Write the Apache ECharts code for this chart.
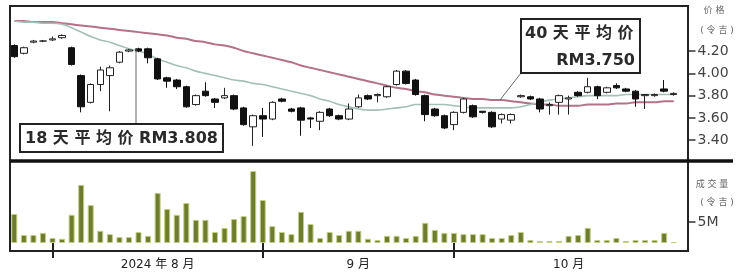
<!DOCTYPE html>
<html><head><meta charset="utf-8">
<script src="https://cdn.jsdelivr.net/npm/echarts@6/dist/echarts.min.js"></script>
<style>html,body{margin:0;padding:0;background:#fff}#c{width:742px;height:280px}</style>
</head><body><div id="c"></div>
<script>
const dates = ['07-26','07-29','07-30','07-31',
'08-01','08-02','08-05','08-06','08-07','08-08','08-09','08-12','08-13','08-14','08-15','08-16','08-19','08-20','08-21','08-22','08-23','08-26','08-27','08-28','08-29','08-30',
'09-02','09-03','09-04','09-05','09-06','09-09','09-10','09-11','09-12','09-13','09-17','09-18','09-19','09-20','09-23','09-24','09-25','09-26','09-27','09-30',
'10-01','10-02','10-03','10-04','10-07','10-08','10-09','10-10','10-11','10-14','10-15','10-16','10-17','10-18','10-21','10-22','10-23','10-24','10-25','10-28','10-29','10-30',
'11-01','11-04'];
const opens = [4.25,4.18,4.28,4.29,4.30,4.32,4.23,3.98,3.74,3.90,
3.98,4.10,4.20,4.22,4.22,4.13,3.96,3.94,3.88,3.72,
3.84,3.77,3.78,3.80,3.69,3.52,3.62,3.59,3.77,3.68,
3.69,3.60,3.57,3.68,3.62,3.59,3.70,3.80,3.80,3.79,
3.90,4.02,3.94,3.80,3.68,3.62,3.54,3.65,3.71,3.66,
3.65,3.59,3.58,3.79,3.79,3.77,3.71,3.74,3.77,3.83,
3.83,3.88,3.83,3.89,3.86,3.84,3.80,3.80,3.86,3.81];
const closes = [4.15,4.23,4.29,4.29,4.31,4.34,4.08,3.70,3.90,4.03,
4.05,4.19,4.21,4.20,4.14,3.95,3.93,3.88,3.70,3.80,
3.80,3.74,3.80,3.68,3.54,3.62,3.59,3.74,3.75,3.66,
3.58,3.59,3.65,3.62,3.59,3.68,3.78,3.77,3.81,3.88,
4.02,3.91,3.81,3.63,3.62,3.51,3.65,3.77,3.61,3.65,
3.52,3.63,3.63,3.80,3.77,3.68,3.72,3.80,3.78,3.80,
3.88,3.80,3.87,3.87,3.84,3.77,3.81,3.81,3.84,3.82];
const lows = [4.14,4.17,4.27,4.28,4.29,4.31,4.07,3.65,3.73,3.84,
3.66,4.09,4.19,4.19,4.09,3.94,3.87,3.86,3.69,3.71,
3.79,3.69,3.77,3.67,3.53,3.35,3.43,3.58,3.74,3.65,
3.44,3.51,3.49,3.61,3.58,3.58,3.69,3.76,3.74,3.78,
3.89,3.90,3.80,3.57,3.61,3.50,3.49,3.64,3.60,3.64,
3.51,3.55,3.55,3.78,3.76,3.65,3.63,3.63,3.63,3.79,
3.82,3.77,3.82,3.86,3.83,3.70,3.68,3.79,3.83,3.80];
const highs = [4.26,4.24,4.30,4.30,4.33,4.35,4.24,3.99,3.91,4.06,
4.07,4.20,4.22,4.23,4.23,4.14,3.97,3.95,3.89,3.81,
3.92,3.78,3.87,3.81,3.70,3.63,3.69,3.75,3.78,3.69,
3.70,3.61,3.66,3.69,3.63,3.73,3.81,3.81,3.82,3.89,
4.03,4.03,3.95,3.81,3.69,3.63,3.66,3.78,3.72,3.66,
3.66,3.64,3.64,3.81,3.80,3.78,3.74,3.81,3.80,3.84,
3.96,3.89,3.88,3.91,3.87,3.85,3.81,3.82,3.94,3.83];
const volumes = [6.9,1.9,1.9,2.4,1.2,1.0,6.7,13.8,9.0,2.9,
2.1,1.4,1.4,2.6,1.7,11.9,8.1,6.7,9.5,5.5,
5.5,2.6,3.6,5.7,6.4,17.1,10.2,4.0,2.6,2.1,
7.4,4.5,1.2,2.6,1.9,2.9,2.9,1.0,0.7,1.7,
1.7,1.2,1.7,4.8,3.1,2.4,2.4,2.1,2.1,2.1,
1.2,1.2,1.9,2.6,0.7,0.5,0.5,0.5,1.7,1.9,
3.6,0.7,0.7,1.2,0.5,0.7,0.7,0.7,2.4,0.2];
const ma40 = [4.47,4.47,4.46,4.46,4.46,4.45,4.44,4.43,4.42,4.41,
4.40,4.39,4.38,4.37,4.36,4.35,4.34,4.32,4.31,4.29,
4.28,4.26,4.25,4.23,4.20,4.18,4.16,4.14,4.12,4.10,
4.07,4.05,4.03,4.01,3.99,3.97,3.95,3.93,3.91,3.89,
3.87,3.86,3.84,3.83,3.81,3.80,3.79,3.78,3.77,3.77,
3.76,3.76,3.75,3.74,3.73,3.72,3.72,3.71,3.71,3.71,
3.72,3.72,3.72,3.73,3.73,3.74,3.74,3.74,3.75,3.75];
const ma18 = [4.47,4.46,4.46,4.45,4.45,4.44,4.41,4.37,4.33,4.30,
4.28,4.25,4.22,4.20,4.17,4.13,4.10,4.07,4.05,4.02,
4.00,3.98,3.96,3.94,3.93,3.91,3.90,3.88,3.86,3.84,
3.82,3.80,3.77,3.75,3.72,3.70,3.68,3.67,3.67,3.68,
3.69,3.70,3.72,3.72,3.72,3.72,3.71,3.70,3.69,3.69,
3.69,3.69,3.69,3.70,3.72,3.74,3.76,3.77,3.78,3.79,
3.80,3.80,3.80,3.80,3.81,3.81,3.81,3.81,3.81,3.81];
const priceTicks = [3.4,3.6,3.8,4.0,4.2];
const volumeTicks = [5];
const monthTickIdx = [4,26,46];
const monthLabels = {15:'2024 年 8 月', 36:'9 月', 58:'10 月'};
const ma18Text = '18 天 平 均 价 RM3.808';
const ma40Title = '40 天 平 均 价';
const ma40Value = 'RM3.750';

const candles = dates.map((d,i)=>[opens[i],closes[i],lows[i],highs[i]]);
const FF = '"DejaVu Sans","Noto Sans CJK SC",sans-serif';
const chart = echarts.init(document.getElementById('c'), null, {renderer:'canvas'});
chart.setOption({
  animation:false,
  backgroundColor:'#fff',
  grid:[{left:9.5,width:669,top:6.5,height:156},{left:9.5,width:669,top:163,height:80}],
  xAxis:[
    {type:'category',data:dates,gridIndex:0,show:false,boundaryGap:true},
    {type:'category',data:dates,gridIndex:1,boundaryGap:true,offset:15,
     axisLine:{show:false},
     axisTick:{show:true,alignWithLabel:true,interval:(i)=>monthTickIdx.includes(i),length:15,lineStyle:{color:'#222',width:2}},
     axisLabel:{interval:(i)=>(i in monthLabels),formatter:(v,i)=>monthLabels[i]||'',margin:1,fontSize:12,color:'#222',fontFamily:FF}}
  ],
  yAxis:[
    {type:'value',gridIndex:0,position:'right',min:3.2,max:4.6,offset:10,
     axisLine:{show:false},splitLine:{show:false},
     axisTick:{show:true,customValues:priceTicks,length:7,lineStyle:{color:'#333',width:1.5}},
     axisLabel:{customValues:priceTicks,formatter:(v)=>v.toFixed(2),margin:9,fontSize:14,color:'#444',fontFamily:'"DejaVu Sans",sans-serif'}},
    {type:'value',gridIndex:1,position:'right',min:0,max:19,offset:10,
     axisLine:{show:false},splitLine:{show:false},
     axisTick:{show:true,customValues:volumeTicks,length:7,lineStyle:{color:'#333',width:1.5}},
     axisLabel:{customValues:volumeTicks,formatter:()=> '5M',margin:9,fontSize:14,color:'#444',fontFamily:'"DejaVu Sans",sans-serif'}}
  ],
  series:[
    {type:'line',name:'40',xAxisIndex:0,yAxisIndex:0,data:ma40,smooth:0.3,showSymbol:false,z:2,
     lineStyle:{color:'#b3718a',width:2}},
    {type:'line',name:'18',xAxisIndex:0,yAxisIndex:0,data:ma18,smooth:0.3,showSymbol:false,z:2,
     lineStyle:{color:'#a5bfb4',width:1.6}},
    {type:'candlestick',xAxisIndex:0,yAxisIndex:0,data:candles,barWidth:7,z:5,
     itemStyle:{color:'#ffffff',color0:'#111111',borderColor:'#222222',borderColor0:'#111111',borderWidth:1}},
    {type:'bar',xAxisIndex:1,yAxisIndex:1,data:volumes,barWidth:6,
     itemStyle:{color:'#6d7c2e',borderColor:'#c2ce86',borderWidth:1}}
  ],
  graphic:[
    {type:'rect',z:10,shape:{x:10,y:6,width:678,height:155},style:{fill:'none',stroke:'#222',lineWidth:2}},
    {type:'rect',z:10,shape:{x:10,y:161,width:678,height:90},style:{fill:'none',stroke:'#222',lineWidth:2}},
    {type:'line',z:10,shape:{x1:10,y1:161,x2:733,y2:161},style:{stroke:'#111',lineWidth:3.5}},
    {type:'text',z:10,x:714,y:11,style:{text:'价 格',fill:'#666',align:'center',verticalAlign:'middle',font:'9px '+FF}},
    {type:'text',z:10,x:717,y:31,style:{text:'( 令 吉 )',fill:'#666',align:'center',verticalAlign:'middle',font:'9px '+FF}},
    {type:'text',z:10,x:712,y:185,style:{text:'成 交 量',fill:'#666',align:'center',verticalAlign:'middle',font:'9px '+FF}},
    {type:'text',z:10,x:717,y:203,style:{text:'( 令 吉 )',fill:'#666',align:'center',verticalAlign:'middle',font:'9px '+FF}},
    {type:'line',z:9,shape:{x1:136,y1:49,x2:136,y2:124},style:{stroke:'#666',lineWidth:1}},
    {type:'rect',z:10,shape:{x:20,y:124,width:203,height:28},style:{fill:'#fff',stroke:'#222',lineWidth:2}},
    {type:'text',z:11,x:25,y:138.5,style:{text:ma18Text,fill:'#2a2a2a',verticalAlign:'middle',font:'bold 16px '+FF}},
    {type:'line',z:9,shape:{x1:521,y1:73,x2:500,y2:100},style:{stroke:'#666',lineWidth:1}},
    {type:'rect',z:10,shape:{x:521,y:19,width:119,height:54},style:{fill:'#fff',stroke:'#222',lineWidth:2}},
    {type:'text',z:11,x:525,y:34,style:{text:ma40Title,fill:'#2a2a2a',verticalAlign:'middle',font:'bold 16px '+FF}},
    {type:'text',z:11,x:635,y:61,style:{text:ma40Value,fill:'#2a2a2a',align:'right',verticalAlign:'middle',font:'bold 16px '+FF}}
  ]
});
</script></body></html>
